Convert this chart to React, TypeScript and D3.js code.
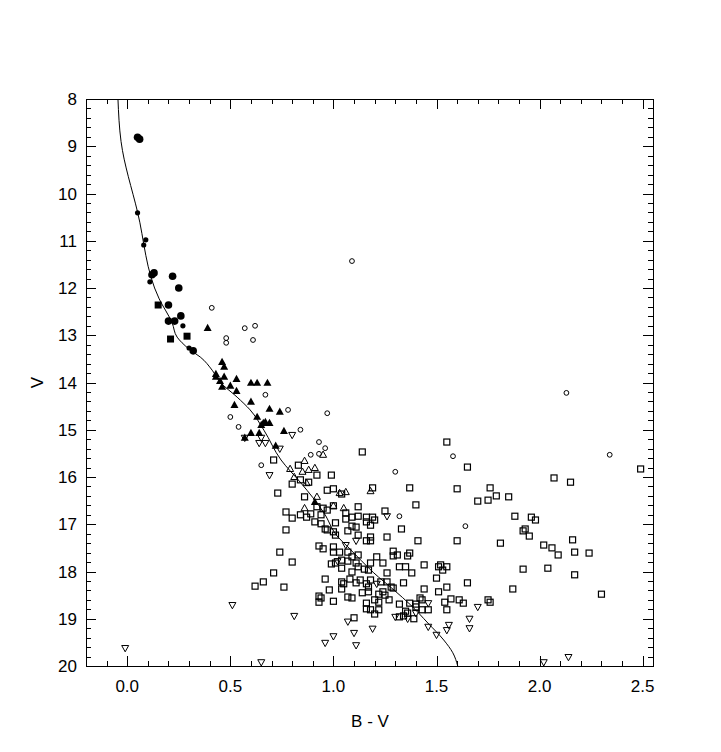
import * as d3 from 'd3'

type Pt = [number, number]

// B-V, V
const isochrone: Pt[] = [
  [-0.045, 8.0], [-0.03, 8.9], [0.05, 10.39], [0.155, 12.23], [0.218, 12.74],
  [0.242, 13.04], [0.266, 13.16], [0.305, 13.31], [0.354, 13.46], [0.412, 13.74],
  [0.45, 13.99], [0.533, 14.31], [0.596, 14.58], [0.663, 15.01], [0.746, 15.64],
  [0.843, 16.13], [0.901, 16.44], [0.954, 16.76], [1.022, 17.27], [1.07, 17.48],
  [1.133, 17.76], [1.196, 18.03], [1.293, 18.39], [1.375, 18.71], [1.458, 19.09],
  [1.535, 19.45], [1.579, 19.72], [1.603, 20.0]
]

const filledCircles: Pt[] = [
  [0.05, 8.81], [0.06, 8.85], [0.12, 11.72], [0.13, 11.68], [0.22, 11.75], [0.25, 12.0],
  [0.2, 12.36], [0.26, 12.59], [0.2, 12.7], [0.23, 12.7], [0.32, 13.33]
]

const filledDots: Pt[] = [
  [0.05, 10.41], [0.09, 10.98], [0.08, 11.09], [0.11, 11.87], [0.27, 12.8], [0.3, 13.27]
]

const filledSquares: Pt[] = [[0.15, 12.36], [0.29, 13.02], [0.21, 13.08]]

const filledTriangles: Pt[] = [
  [0.39, 12.85], [0.46, 13.57], [0.47, 13.67], [0.43, 13.82], [0.43, 13.88], [0.47, 13.88],
  [0.53, 13.93], [0.45, 13.97], [0.46, 14.09], [0.5, 14.07], [0.53, 14.18], [0.6, 14.01],
  [0.63, 14.01], [0.68, 14.01], [0.6, 14.41], [0.52, 14.48], [0.69, 14.56], [0.74, 14.62],
  [0.63, 14.73], [0.66, 14.86], [0.67, 14.84], [0.69, 14.86], [0.65, 14.9], [0.6, 15.07],
  [0.64, 15.07], [0.57, 15.17], [0.76, 15.03], [0.72, 15.34], [0.91, 16.53]
]

const openTriangles: Pt[] = [
  [0.95, 15.53], [0.86, 15.66], [0.79, 15.83], [0.88, 15.85], [0.91, 15.81], [0.85, 15.89],
  [0.81, 16.0], [0.87, 16.13], [1.18, 16.3], [1.06, 16.32], [1.03, 16.34], [0.92, 16.42],
  [0.86, 16.66], [1.0, 16.61], [1.05, 16.66]
]

const invTriangles: Pt[] = [
  [-0.01, 19.62], [0.51, 18.71], [0.65, 19.92], [0.81, 18.94], [1.07, 19.06], [1.0, 19.37],
  [0.96, 19.51], [1.1, 19.3], [1.11, 19.56], [1.19, 19.21], [1.06, 17.44], [1.11, 17.35],
  [1.02, 17.78], [1.3, 18.96], [1.36, 19.0], [1.4, 18.88], [1.46, 18.67], [1.46, 19.17],
  [1.5, 19.34], [1.55, 19.24], [1.56, 19.13], [1.66, 19.0], [1.66, 19.2], [2.02, 19.92],
  [2.14, 19.81], [1.7, 18.75], [1.26, 16.83], [0.65, 15.17], [0.64, 15.28], [0.67, 15.28],
  [0.74, 15.4], [0.69, 15.96], [0.8, 15.11], [0.57, 15.17], [1.21, 18.26]
]

const openCircles: Pt[] = [
  [0.41, 12.42], [0.57, 12.85], [0.62, 12.8], [0.48, 13.06], [0.48, 13.16], [0.61, 13.1],
  [0.67, 14.26], [0.5, 14.73], [0.54, 14.94], [0.65, 15.75], [0.78, 14.58], [0.97, 14.65],
  [0.84, 15.0], [0.93, 15.26], [0.96, 15.39], [0.89, 15.53], [0.93, 15.51], [1.3, 15.89],
  [1.58, 15.56], [1.32, 16.83], [1.64, 17.04], [2.13, 14.22], [2.34, 15.53], [1.09, 11.43]
]

const openSquares: Pt[] = [
  [1.55, 15.26], [1.65, 15.79], [1.14, 15.47], [0.71, 15.64], [0.83, 15.75], [0.92, 15.96],
  [0.99, 15.96], [0.88, 16.11], [0.84, 16.06], [0.8, 16.15], [0.73, 16.34], [1.0, 16.25],
  [0.97, 16.28], [1.04, 16.36], [1.19, 16.23], [1.37, 16.23], [1.6, 16.25], [0.86, 16.42],
  [0.92, 16.63], [0.95, 16.66], [0.97, 16.7], [1.0, 16.61], [1.12, 16.63], [1.4, 16.59],
  [1.25, 16.72], [0.77, 16.74], [0.89, 16.78], [0.84, 16.8], [0.87, 16.85], [0.8, 16.87],
  [0.94, 16.8], [1.06, 16.76], [1.09, 16.85], [1.12, 16.83], [1.16, 16.85], [1.19, 16.85],
  [1.16, 16.95], [1.2, 16.91], [1.06, 16.89], [0.91, 16.95], [0.94, 16.99], [1.01, 16.97],
  [1.09, 17.04], [1.11, 17.06], [1.18, 17.02], [0.77, 17.12], [0.96, 17.1], [1.33, 17.1],
  [1.76, 16.23], [1.79, 16.4], [1.75, 16.49], [1.7, 16.51], [1.85, 16.42], [2.07, 16.02],
  [2.15, 16.11], [2.49, 15.83], [1.88, 16.83], [1.96, 16.85], [1.98, 16.91],
  [1.6, 17.35], [1.81, 17.4], [1.92, 17.14], [1.93, 17.1], [1.95, 17.25], [2.02, 17.44],
  [2.06, 17.5], [2.09, 17.65], [2.16, 17.33], [2.17, 17.59], [2.24, 17.61], [1.92, 17.95],
  [2.04, 17.93], [2.17, 18.07], [2.3, 18.48], [1.87, 18.37], [1.65, 18.24], [1.57, 18.58],
  [1.61, 18.6], [1.63, 18.67], [1.75, 18.6], [1.76, 18.65],
  [0.97, 17.12], [1.0, 17.16], [1.01, 17.23], [1.07, 17.14], [1.12, 17.23], [1.16, 17.35],
  [1.18, 17.35], [1.18, 17.27], [1.26, 17.27], [1.41, 17.35], [0.74, 17.59], [0.8, 17.8],
  [0.93, 17.46], [0.95, 17.52], [1.0, 17.48], [1.0, 17.59], [1.03, 17.59], [1.07, 17.59],
  [0.99, 17.84], [1.01, 17.82], [1.07, 17.78], [1.09, 17.69], [1.12, 17.65], [1.11, 17.82],
  [1.12, 17.9], [1.04, 17.93], [1.09, 18.01], [1.15, 17.95], [1.17, 17.97], [1.18, 17.82],
  [1.21, 17.69], [1.24, 17.82], [1.26, 18.03], [1.29, 17.57], [1.29, 17.67], [1.31, 17.65],
  [1.32, 17.9], [1.36, 17.67], [1.37, 17.61], [1.35, 17.9], [1.44, 17.86], [1.51, 17.9],
  [1.52, 17.86], [1.53, 17.97], [1.55, 17.9], [1.38, 18.03], [0.71, 18.03], [0.96, 18.16],
  [1.04, 18.22], [1.05, 18.26], [1.08, 18.16], [1.11, 18.24], [1.13, 18.18], [1.16, 18.26],
  [1.18, 18.18], [1.23, 18.22], [1.26, 18.22], [1.28, 18.33], [1.29, 18.35], [1.34, 18.24],
  [1.5, 18.14], [0.76, 18.33], [0.98, 18.39], [1.04, 18.37], [1.07, 18.54], [1.09, 18.56],
  [1.14, 18.45], [1.17, 18.33], [1.17, 18.43], [1.22, 18.48], [1.24, 18.43], [1.25, 18.5],
  [1.44, 18.37], [1.51, 18.43], [1.55, 18.33], [0.93, 18.52], [0.94, 18.56], [0.93, 18.65],
  [1.0, 18.63], [1.16, 18.67], [1.2, 18.6], [1.22, 18.65], [1.27, 18.6], [1.32, 18.69],
  [1.37, 18.67], [1.4, 18.69], [1.43, 18.6], [1.43, 18.81], [1.46, 18.81], [1.54, 18.65],
  [1.55, 18.81], [1.16, 18.79], [1.18, 18.81], [1.22, 18.81], [1.2, 18.9], [1.32, 18.96],
  [1.35, 18.84], [1.36, 18.88], [1.34, 18.94], [1.39, 19.0], [1.1, 18.98], [1.42, 18.56],
  [1.4, 18.75], [1.04, 17.76], [0.62, 18.31], [0.66, 18.22]
]

const xTickLabels = ['0.0', '0.5', '1.0', '1.5', '2.0', '2.5']
const yTickLabels = ['8', '9', '10', '11', '12', '13', '14', '15', '16', '17', '18', '19', '20']

const W = 721
const H = 752
const L = 86, R = 653, T = 99, B = 666
const font = '"Liberation Sans", Arial, sans-serif'

export default function App() {
  const x = d3.scaleLinear().domain([-0.2, 2.55]).range([L, R])
  const y = d3.scaleLinear().domain([8, 20]).range([T, B])

  const line = d3
    .line<Pt>()
    .x(d => x(d[0]))
    .y(d => y(d[1]))
    .curve(d3.curveMonotoneY)

  const xMinor = d3.range(-1, 26).map(i => i / 10)
  const yMinor = d3.range(40, 101).map(i => i / 5)

  const tri = (cx: number, cy: number, s: number, up: boolean) => {
    const h = s * 0.9
    return up
      ? `M${cx},${cy - h * 0.6}L${cx + s / 2},${cy + h * 0.4}L${cx - s / 2},${cy + h * 0.4}Z`
      : `M${cx},${cy + h * 0.6}L${cx + s / 2},${cy - h * 0.4}L${cx - s / 2},${cy - h * 0.4}Z`
  }

  return (
    <svg width={W} height={H} style={{ position: 'absolute', left: 0, top: 0, background: '#fff' }}>
      <rect x={0} y={0} width={W} height={H} fill="#fff" />
      <defs>
        <clipPath id="plot">
          <rect x={L} y={T} width={R - L} height={B - T} />
        </clipPath>
      </defs>

      {/* ticks */}
      <g stroke="#000" strokeWidth={1}>
        {xMinor.map(v => {
          const major = Math.abs((v * 10) % 5) < 1e-6
          const len = major ? 10 : 5
          const px = Math.round(x(v)) + 0.5
          return (
            <g key={'xt' + v}>
              <line x1={px} x2={px} y1={B} y2={B - len} />
              <line x1={px} x2={px} y1={T} y2={T + len} />
            </g>
          )
        })}
        {yMinor.map(v => {
          const major = Math.abs(v - Math.round(v)) < 1e-6
          const len = major ? 10 : 5
          const py = Math.round(y(v)) + 0.5
          return (
            <g key={'yt' + v}>
              <line x1={L} x2={L + len} y1={py} y2={py} />
              <line x1={R} x2={R - len} y1={py} y2={py} />
            </g>
          )
        })}
      </g>

      <rect x={L + 0.5} y={T + 0.5} width={R - L} height={B - T} fill="none" stroke="#000" strokeWidth={1} />

      <g fontFamily={font} fontSize={17} fill="#000">
        {xTickLabels.map(t => (
          <text key={t} x={x(+t)} y={692} textAnchor="middle">{t}</text>
        ))}
        {yTickLabels.map(t => (
          <text key={t} x={77} y={y(+t) + 6} textAnchor="end">{t}</text>
        ))}
        <text x={370} y={727} textAnchor="middle">B - V</text>
        <text transform={`translate(43,${y(14)}) rotate(-90)`} textAnchor="middle">V</text>
      </g>

      <g clipPath="url(#plot)">
        <path d={line(isochrone) ?? ''} fill="none" stroke="#000" strokeWidth={1} />

        {openSquares.map((d, i) => (
          <rect key={'os' + i} x={x(d[0]) - 3} y={y(d[1]) - 3} width={6} height={6}
            fill="none" stroke="#000" strokeWidth={1.2} />
        ))}
        {openCircles.map((d, i) => (
          <circle key={'oc' + i} cx={x(d[0])} cy={y(d[1])} r={2.4} fill="none" stroke="#000" strokeWidth={1} />
        ))}
        {openTriangles.map((d, i) => (
          <path key={'ot' + i} d={tri(x(d[0]), y(d[1]), 7, true)} fill="none" stroke="#000" strokeWidth={1} />
        ))}
        {invTriangles.map((d, i) => (
          <path key={'it' + i} d={tri(x(d[0]), y(d[1]), 7, false)} fill="none" stroke="#000" strokeWidth={1} />
        ))}
        {filledTriangles.map((d, i) => (
          <path key={'ft' + i} d={tri(x(d[0]), y(d[1]), 8, true)} fill="#000" />
        ))}
        {filledSquares.map((d, i) => (
          <rect key={'fs' + i} x={x(d[0]) - 3.5} y={y(d[1]) - 3.5} width={7} height={7} fill="#000" />
        ))}
        {filledCircles.map((d, i) => (
          <circle key={'fc' + i} cx={x(d[0])} cy={y(d[1])} r={3.8} fill="#000" />
        ))}
        {filledDots.map((d, i) => (
          <circle key={'fd' + i} cx={x(d[0])} cy={y(d[1])} r={2.6} fill="#000" />
        ))}
      </g>
    </svg>
  )
}
